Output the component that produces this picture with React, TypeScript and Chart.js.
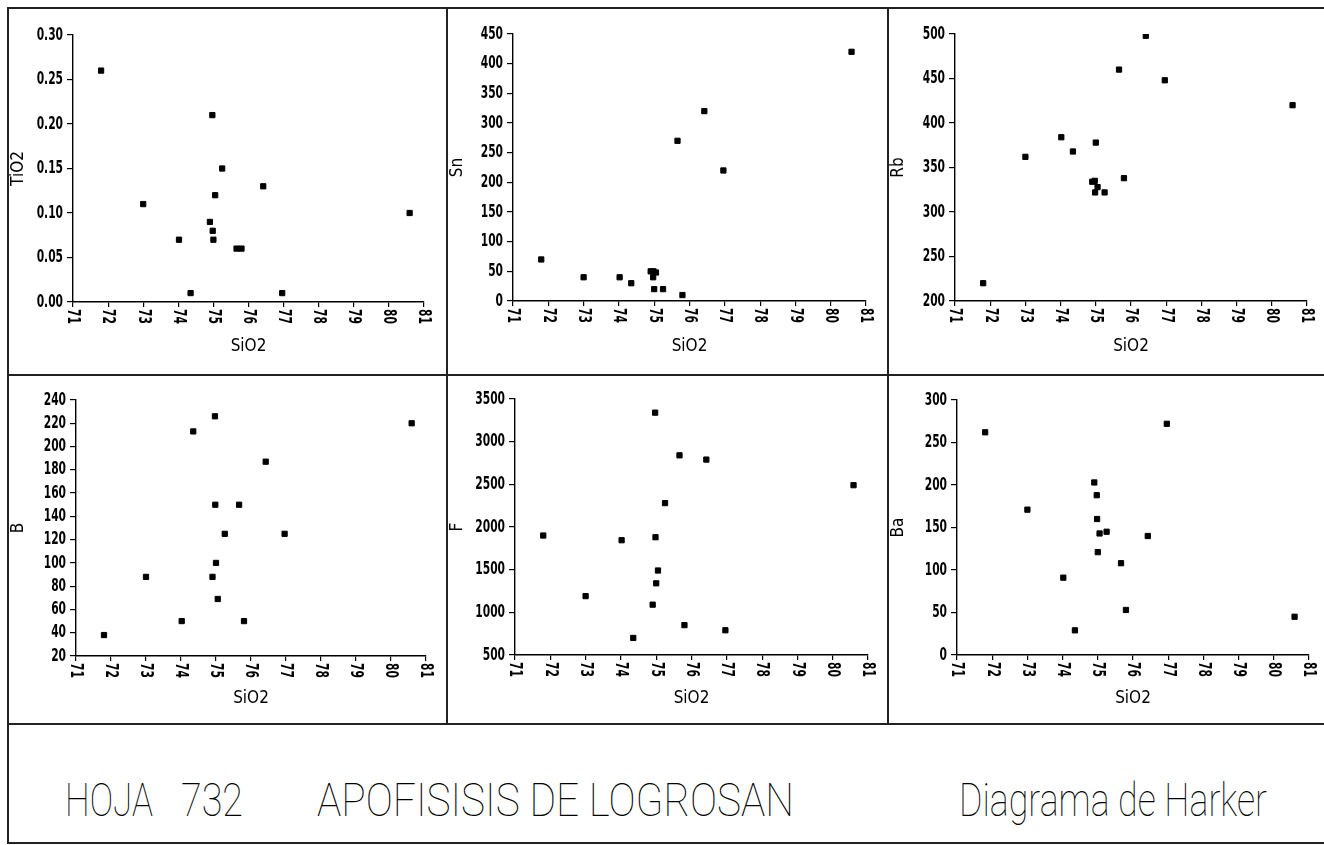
import React, { useEffect, useLayoutEffect, useRef } from "react";
import { Chart, registerables } from "chart.js";

Chart.register(...registerables);

// ---- data ----
const sio2 = [71.8, 73.0, 74.02, 74.35, 74.9, 74.97, 74.98, 75.0, 75.05, 75.25, 75.66, 75.8, 76.42, 76.96, 80.59];
const tio2 = [0.26, 0.11, 0.07, 0.01, 0.09, 0.21, 0.08, 0.07, 0.12, 0.15, 0.06, 0.06, 0.13, 0.01, 0.10];
const sn = [70, 40, 40, 30, 50, 40, 50, 20, 48, 20, 270, 10, 320, 220, 420];
const rb = [220, 362, 384, 368, 334, 335, 322, 378, 328, 322, 460, 338, 498, 448, 420];
const b = [38, 88, 50, 213, 88, 226, 150, 100, 69, 125, 150, 50, 187, 125, 220];
const f = [1900, 1190, 1845, 700, 1090, 3340, 1880, 1340, 1490, 2280, 2840, 850, 2790, 790, 2490];
const ba = [262, 171, 91, 29, 203, 188, 160, 121, 143, 145, 108, 53, 140, 272, 45];

const xTickLabels = ["71", "72", "73", "74", "75", "76", "77", "78", "79", "80", "81"];
const xTitle = "SiO2";

const panels = [
  { name: "TiO2", values: tio2, min: 0, max: 0.3, step: 0.05, decimals: 2 },
  { name: "Sn", values: sn, min: 0, max: 450, step: 50, decimals: 0 },
  { name: "Rb", values: rb, min: 200, max: 500, step: 50, decimals: 0 },
  { name: "B", values: b, min: 20, max: 240, step: 20, decimals: 0 },
  { name: "F", values: f, min: 500, max: 3500, step: 500, decimals: 0 },
  { name: "Ba", values: ba, min: 0, max: 300, step: 50, decimals: 0 },
];

const titleParts = [
  { text: "HOJA", left: 65, width: 88 },
  { text: "732", left: 181, width: 62 },
  { text: "APOFISISIS DE LOGROSAN", left: 317, width: 477 },
  { text: "Diagrama de Harker", left: 959, width: 308 },
];

// ---- layout (page pixels) ----
const colX = [8, 447, 888];
const colW = [439, 441, 436];
const rowY = [8, 375];
const rowH = [367, 349];
const xTitleCenterY = [347, 698.5];
// plot rectangles [left, right, top, bottom]
const plotRects = [
  [73, 424, 35, 302],
  [513, 866, 34, 301],
  [955, 1307, 34, 301],
  [76, 426, 400, 656],
  [515, 868, 399, 655],
  [957, 1309, 400, 655],
];

const FONT = '"DejaVu Sans Condensed", "DejaVu Sans", sans-serif';
const TICK_SIZE = 18;
const TICK_SQUEEZE = 0.66;
const TITLE_SIZE = 17;

// Tick labels drawn through the scales, horizontally condensed like the plotter font.
const condensedTicks = {
  id: "condensedTicks",
  afterDraw(chart: any, _args: any, opts: any) {
    const xs = chart.scales.x;
    const ys = chart.scales.y;
    const decimals = Number(opts && opts.decimals) || 0;
    const ctx = chart.ctx as CanvasRenderingContext2D;
    ctx.save();
    ctx.fillStyle = "#000";
    ctx.font = `bold ${TICK_SIZE}px ${FONT}`;
    // x ticks, rotated clockwise
    ctx.textAlign = "left";
    ctx.textBaseline = "middle";
    for (const lab of xTickLabels) {
      const px = xs.getPixelForValue(Number(lab));
      ctx.save();
      ctx.translate(px, xs.top + 7);
      ctx.rotate(Math.PI / 2);
      ctx.scale(TICK_SQUEEZE, 1);
      ctx.fillText(lab, 0, 0);
      ctx.restore();
    }
    // y ticks
    ctx.textAlign = "right";
    ctx.textBaseline = "middle";
    for (const t of ys.ticks) {
      const py = ys.getPixelForValue(t.value);
      ctx.save();
      ctx.translate(ys.right - 10, py);
      ctx.scale(TICK_SQUEEZE, 1);
      ctx.fillText(Number(t.value).toFixed(decimals), 0, 0);
      ctx.restore();
    }
    ctx.restore();
  },
};

function Panel({ index }: { index: number }) {
  const ref = useRef<HTMLCanvasElement>(null);
  const col = index % 3;
  const row = Math.floor(index / 3);
  const bx = colX[col];
  const by = rowY[row];
  const bw = colW[col];
  const bh = rowH[row];
  const p = panels[index];
  const [L, R, T, B] = plotRects[index];

  useEffect(() => {
    const half = (TITLE_SIZE * 1.2) / 2;
    const scaleBottom = xTitleCenterY[row] + half;
    const padBottom = by + bh - scaleBottom;
    const hx = scaleBottom - B;
    const wy = L - bx;
    const chart = new Chart(ref.current as HTMLCanvasElement, {
      type: "scatter",
      data: {
        datasets: [
          {
            data: sio2.map((x, i) => ({ x, y: p.values[i] })),
            backgroundColor: "#000",
            borderColor: "#000",
            borderWidth: 1,
            pointStyle: "rect",
            pointRadius: 3.7,
            showLine: false,
          },
        ],
      },
      options: {
        animation: false,
        responsive: false,
        devicePixelRatio: 1,
        events: [],
        layout: { padding: { left: 0, top: T - by, right: bx + bw - R, bottom: padBottom } },
        plugins: {
          legend: { display: false },
          tooltip: { enabled: false },
          condensedTicks: { decimals: p.decimals },
        },
        scales: {
          x: {
            type: "linear",
            min: 71,
            max: 81,
            ticks: { display: false, stepSize: 1 },
            grid: { display: true, drawOnChartArea: false, drawTicks: true, tickLength: 5, color: "#000", lineWidth: 1.2 },
            border: { display: true, color: "#000", width: 1.4 },
            title: { display: true, text: xTitle, color: "#000", font: { family: FONT, size: TITLE_SIZE }, padding: 0 },
            afterFit: (s: any) => {
              s.height = hx;
            },
          },
          y: {
            type: "linear",
            min: p.min,
            max: p.max,
            ticks: { display: false, stepSize: p.step, autoSkip: false },
            grid: { display: true, drawOnChartArea: false, drawTicks: true, tickLength: 6, color: "#000", lineWidth: 1.2 },
            border: { display: true, color: "#000", width: 1.4 },
            title: { display: true, text: p.name, color: "#000", font: { family: FONT, size: TITLE_SIZE }, padding: 0 },
            afterFit: (s: any) => {
              s.width = wy;
            },
          },
        },
      } as any,
      plugins: [condensedTicks],
    });
    return () => chart.destroy();
  }, []);

  return (
    <canvas
      ref={ref}
      width={bw}
      height={bh}
      style={{ position: "absolute", left: bx, top: by, width: bw, height: bh, display: "block" }}
    />
  );
}

function FitText({ text, left, width }: { text: string; left: number; width: number }) {
  const ref = useRef<HTMLSpanElement>(null);
  useLayoutEffect(() => {
    const el = ref.current;
    if (!el) return;
    el.style.transform = "none";
    const w = el.getBoundingClientRect().width;
    if (w > 0) el.style.transform = `scaleX(${width / w})`;
  }, [text, width]);
  return (
    <span
      ref={ref}
      style={{
        position: "absolute",
        left,
        top: 777,
        fontFamily: "Roboto, 'DejaVu Sans', sans-serif",
        fontWeight: 100,
        fontSize: 46,
        lineHeight: "1",
        whiteSpace: "pre",
        transformOrigin: "0 0",
        color: "#000",
      }}
    >
      {text}
    </span>
  );
}

const lineStyle = (left: number, top: number, width: number, height: number): React.CSSProperties => ({
  position: "absolute",
  left,
  top,
  width,
  height,
  background: "#222",
});

export default function App() {
  return (
    <div style={{ position: "absolute", left: 0, top: 0, width: 1324, height: 845, background: "#fff", overflow: "hidden" }}>
      {panels.map((_, i) => (
        <Panel key={i} index={i} />
      ))}
      {titleParts.map((t, i) => (
        <FitText key={i} text={t.text} left={t.left} width={t.width} />
      ))}
      <div style={lineStyle(7, 7, 1317, 2)} />
      <div style={lineStyle(7, 7, 2, 837)} />
      <div style={lineStyle(446, 7, 2, 717)} />
      <div style={lineStyle(887, 7, 2, 717)} />
      <div style={lineStyle(7, 374, 1317, 2)} />
      <div style={lineStyle(7, 723, 1317, 2)} />
      <div style={lineStyle(7, 842, 1317, 2)} />
    </div>
  );
}
